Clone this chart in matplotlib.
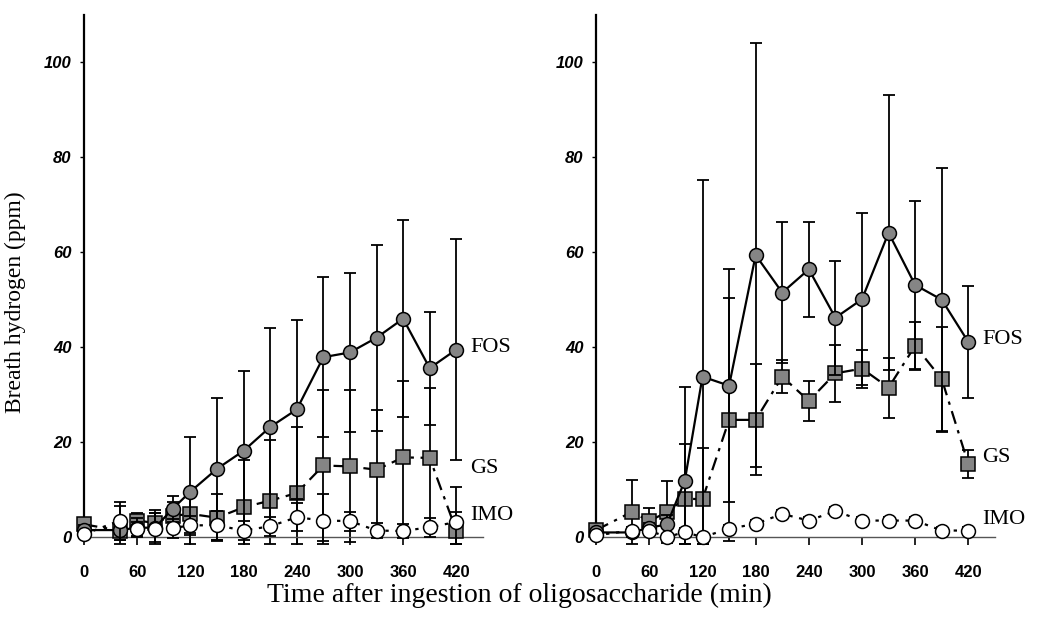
import numpy as np
import matplotlib
matplotlib.use("Agg")
import matplotlib.pyplot as plt

# sampling times (min)
times = [0, 40, 60, 80, 100, 120, 150, 180, 210, 240, 270, 300, 330, 360, 390, 420]

# left panel
fos_l = [1.5, 1.5, 2, 2, 6, 9.6, 14.4, 18.2, 23.2, 26.9, 37.9, 38.9, 42, 46, 35.6, 39.5]
fos_l_sd = [1, 5, 2, 3, 2.7, 11.4, 14.9, 16.8, 20.8, 18.9, 16.8, 16.8, 19.6, 20.7, 11.9, 23.2]
gs_l = [2.7, 1.4, 3.5, 3, 4.5, 4.9, 4.1, 6.3, 7.7, 9.3, 15.1, 14.9, 14.2, 16.8, 16.7, 1.4]
gs_l_sd = [1, 2, 1.5, 2, 3, 4, 5, 10, 12.7, 14, 15.8, 16, 12.5, 16, 14.8, 4]
imo_l = [0.6, 3.5, 1.8, 1.8, 1.9, 2.5, 2.5, 1.4, 2.3, 4.2, 3.5, 3.4, 1.4, 1.3, 2.1, 3.2]
imo_l_sd = [0.5, 4, 1.5, 4, 2, 2, 3, 2, 2, 3, 5.6, 2, 1.5, 1.5, 2, 7.3]

# right panel
fos_r = [1, 1, 2, 2.7, 11.9, 33.8, 31.9, 59.4, 51.5, 56.4, 46.2, 50.1, 64.1, 53.1, 50, 41.1]
fos_r_sd = [0, 1, 1, 2, 19.7, 41.4, 24.5, 44.6, 14.9, 10, 12, 18.1, 29, 17.7, 27.8, 11.7]
gs_r = [1.5, 5.3, 3.4, 5.3, 8.1, 8.0, 24.7, 24.7, 33.8, 28.7, 34.5, 35.5, 31.5, 40.3, 33.3, 15.4]
gs_r_sd = [0.5, 6.7, 2.8, 6.6, 11.5, 10.7, 25.6, 11.7, 3.5, 4.2, 6, 4, 6.3, 5, 11, 3]
imo_r = [0.4, 1.4, 1.4, 0, 1.1, 0, 1.8, 2.8, 4.9, 3.5, 5.5, 3.5, 3.5, 3.5, 1.4, 1.4]
imo_r_sd = [0.5, 0.8, 0.8, 0.5, 0.8, 0.5, 0.8, 0.8, 0.8, 0.8, 0.8, 0.8, 0.8, 0.8, 0.8, 0.8]

# label heights next to the last point
label_y_l = {"FOS": 40, "GS": 14.5, "IMO": 4.6}
label_y_r = {"FOS": 41.7, "GS": 16.8, "IMO": 3.8}

GRAY = "#858585"
tick_font = {"family": "Liberation Sans", "weight": "bold"}


def draw_series(ax, y, sd, marker, face, ls, z):
    y = np.array(y, float)
    sd = np.array(sd, float)
    lower = np.minimum(sd, y + 1.5)
    ax.errorbar(times, y, yerr=[lower, sd], fmt="none", ecolor="black",
                elinewidth=1.3, capsize=4, capthick=1.3, zorder=z - 0.5)
    ax.plot(times, y, linestyle=ls, color="black", lw=1.6, marker=marker,
            markersize=10 if marker == "o" else 9.5, markerfacecolor=face,
            markeredgecolor="black", markeredgewidth=1.1, zorder=z)


def setup(ax, labels_y):
    ax.set_xlim(-16, 458)
    ax.set_ylim(-4.8, 111)
    for s in ["top", "right"]:
        ax.spines[s].set_visible(False)
    ax.spines["left"].set_position(("data", 0))
    ax.spines["left"].set_bounds(0, 110)
    ax.spines["left"].set_linewidth(1.6)
    ax.spines["bottom"].set_position(("data", 0))
    ax.spines["bottom"].set_bounds(0, 450)
    ax.spines["bottom"].set_color("#555555")
    ax.spines["bottom"].set_linewidth(1.0)
    ax.set_yticks([0, 20, 40, 60, 80, 100])
    ax.set_xticks(range(0, 421, 60))
    ax.tick_params(axis="y", direction="out", length=3, width=1, pad=6)
    ax.tick_params(axis="x", direction="out", length=6, width=1.2, pad=14)
    for t in ax.get_yticklabels():
        t.set_fontproperties(tick_font)
        t.set_fontstyle("italic")
        t.set_fontsize(12)
    for t in ax.get_xticklabels():
        t.set_fontproperties(tick_font)
        t.set_fontsize(12)
    for name, yy in labels_y.items():
        ax.text(436, yy, name, fontsize=16, family="Liberation Serif",
                va="center", ha="left")


fig = plt.figure(figsize=(10.38, 6.17), dpi=100)
ax1 = fig.add_axes([0.0674, 0.0924, 0.4046, 0.8914])
ax2 = fig.add_axes([0.5607, 0.0924, 0.4046, 0.8914])

for ax, data, labs in [
    (ax1, (fos_l, fos_l_sd, gs_l, gs_l_sd, imo_l, imo_l_sd), label_y_l),
    (ax2, (fos_r, fos_r_sd, gs_r, gs_r_sd, imo_r, imo_r_sd), label_y_r),
]:
    f, fsd, g, gsd, m, msd = data
    draw_series(ax, g, gsd, "s", GRAY, (0, (6, 3, 1.5, 3)), 3)
    draw_series(ax, f, fsd, "o", GRAY, "-", 4)
    draw_series(ax, m, msd, "o", "white", (0, (1.5, 3)), 5)
    setup(ax, labs)

fig.text(0.015, 0.51, "Breath hydrogen (ppm)", rotation=90, fontsize=17,
         family="Liberation Serif", va="center", ha="center")
fig.text(0.50, 0.035, "Time after ingestion of oligosaccharide (min)",
         fontsize=20, family="Liberation Serif", va="center", ha="center")

fig.savefig("out.png", dpi=100)
